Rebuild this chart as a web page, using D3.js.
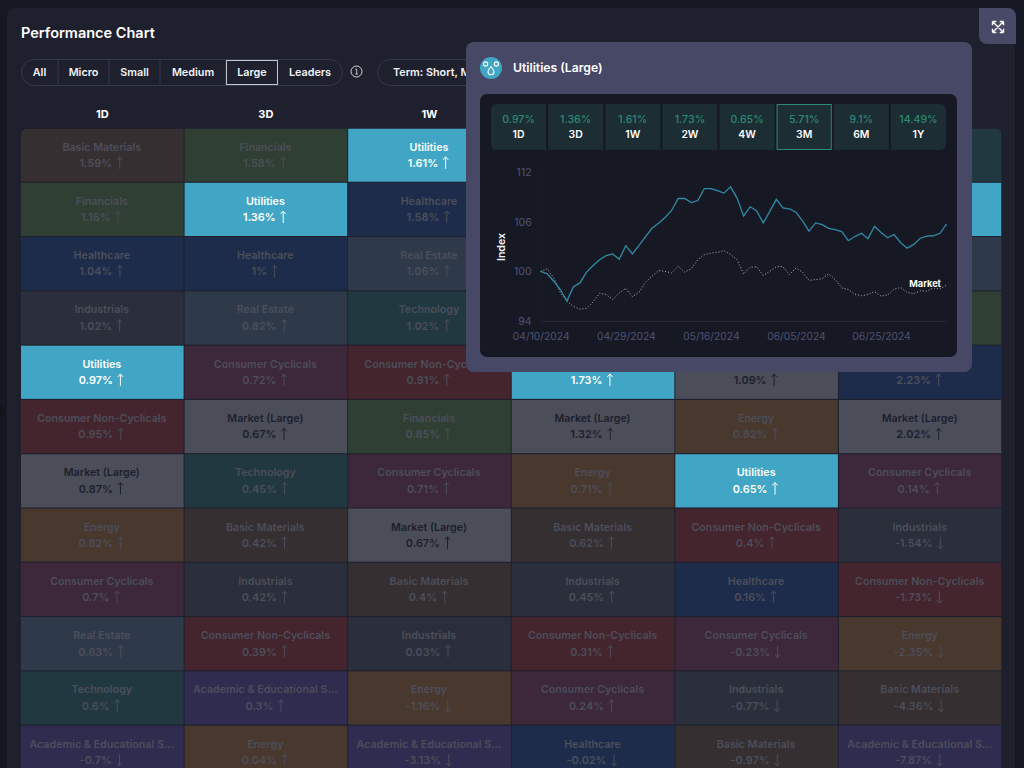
<!DOCTYPE html>
<html><head><meta charset="utf-8">
<style>html,body{margin:0;padding:0;background:#151722;overflow:hidden}svg{display:block}text{font-family:Inter,sans-serif}</style>
<script src="https://cdn.jsdelivr.net/npm/d3@7"></script></head>
<body><svg id="c" width="1024" height="768"></svg>
<script>
const periods=["1D","3D","1W","2W","4W","3M"];
const visibleHeaders=["1D","3D","1W"];
const tabs=["All","Micro","Small","Medium","Large","Leaders"];
const sectors1D=["Basic Materials","Financials","Healthcare","Industrials","Utilities","Consumer Non-Cyclicals","Market (Large)","Energy","Consumer Cyclicals","Real Estate","Technology","Academic & Educational S..."];
const values1D=[1.59,1.16,1.04,1.02,0.97,0.95,0.87,0.82,0.7,0.63,0.6,-0.7];
const sectors3D=["Financials","Utilities","Healthcare","Real Estate","Consumer Cyclicals","Market (Large)","Technology","Basic Materials","Industrials","Consumer Non-Cyclicals","Academic & Educational S...","Energy"];
const values3D=[1.58,1.36,1,0.82,0.72,0.67,0.45,0.42,0.42,0.39,0.3,0.04];
const sectors1W=["Utilities","Healthcare","Real Estate","Technology","Consumer Non-Cyclicals","Financials","Consumer Cyclicals","Market (Large)","Basic Materials","Industrials","Energy","Academic & Educational S..."];
const values1W=[1.61,1.58,1.06,1.02,0.91,0.85,0.71,0.67,0.4,0.03,-1.16,-3.13];
// Rows 0-3 of 2W and 4W sit entirely behind the popup and cannot be read.
const sectors2W=[null,null,null,null,"Utilities","Market (Large)","Energy","Basic Materials","Industrials","Consumer Non-Cyclicals","Consumer Cyclicals","Healthcare"];
const values2W=[null,null,null,null,1.73,1.32,0.71,0.62,0.45,0.31,0.24,-0.02];
const sectors4W=[null,null,null,null,"Market (Large)","Energy","Utilities","Consumer Non-Cyclicals","Healthcare","Consumer Cyclicals","Industrials","Basic Materials"];
const values4W=[null,null,null,null,1.09,0.82,0.65,0.4,0.16,-0.23,-0.77,-0.97];
const sectors3M=["Technology","Utilities","Real Estate","Financials","Healthcare","Market (Large)","Consumer Cyclicals","Industrials","Consumer Non-Cyclicals","Energy","Basic Materials","Academic & Educational S..."];
const values3M=[null,5.71,null,null,2.23,2.02,0.14,-1.54,-1.73,-2.35,-4.36,-7.87];
const sectorColors={"Basic Materials":"#352f31","Financials":"#2f3f33","Healthcare":"#1e2c4b","Industrials":"#2a2f3b","Utilities":"#41a6c5","Consumer Non-Cyclicals":"#44242d","Market (Large)":"#4b4e59","Energy":"#48382e","Consumer Cyclicals":"#3d273a","Real Estate":"#2e3a4a","Technology":"#213840","Academic & Educational S...":"#2f2c50"};
const tileLabels=["1D","3D","1W","2W","4W","3M","6M","1Y"];
const tileValues=["0.97%","1.36%","1.61%","1.73%","0.65%","5.71%","9.1%","14.49%"];
const dates=["04/10/2024","04/11/2024","04/12/2024","04/15/2024","04/16/2024","04/17/2024","04/18/2024","04/19/2024","04/22/2024","04/23/2024","04/24/2024","04/25/2024","04/26/2024","04/29/2024","04/30/2024","05/01/2024","05/02/2024","05/03/2024","05/06/2024","05/07/2024","05/08/2024","05/09/2024","05/10/2024","05/13/2024","05/14/2024","05/15/2024","05/16/2024","05/17/2024","05/20/2024","05/21/2024","05/22/2024","05/23/2024","05/24/2024","05/28/2024","05/29/2024","05/30/2024","05/31/2024","06/03/2024","06/04/2024","06/05/2024","06/06/2024","06/07/2024","06/10/2024","06/11/2024","06/12/2024","06/13/2024","06/14/2024","06/17/2024","06/18/2024","06/20/2024","06/21/2024","06/24/2024","06/25/2024","06/26/2024","06/27/2024","06/28/2024","07/01/2024","07/02/2024","07/03/2024","07/05/2024","07/08/2024","07/09/2024","07/10/2024"];
const utilitiesIndex=[100,99.7,98.8,97.8,96.4,98.15,98.6,99.9,100.7,101.4,101.9,102.1,101.45,103.1,102.1,103.1,104.15,105.2,105.8,106.5,107.35,108.8,108.8,108.3,108.55,110,110,109.75,109.45,110.2,108.85,106.7,107.8,107.3,105.85,107.25,108.7,107.65,107.55,107.15,106.1,104.85,105.85,105.65,105.2,105.05,104.8,103.7,104.2,104.6,103.95,105.45,104.7,104.05,104.45,103.45,102.8,103.25,104,104.25,104.3,104.6,105.71];
const marketIndex=[100,100.3,99.2,97.4,96.4,95.75,95.45,95.5,96.3,97.35,97.2,96.6,97.4,97.95,96.95,97.45,98.65,99.4,100.1,100,99.8,100.6,99.9,100.3,101.4,102,102.2,102.3,102.5,102.05,101.4,99.7,100.5,100.55,99.5,100,100.55,100.6,99.6,100.4,99.9,98.9,99,99.1,99.7,99,98,97.8,97.25,97.05,97.2,97.55,97,97.15,97.85,98.05,97.45,97.3,97.65,97.6,98,97.85,98.35];
const yTicks=[94,100,106,112];
const xTicks=["04/10/2024","04/29/2024","05/16/2024","06/05/2024","06/25/2024"];

const svg=d3.select("#c");
const defs=svg.append("defs");
defs.append("clipPath").attr("id","gridClip").append("rect").attr("x",21).attr("y",128.5).attr("width",980.5).attr("height",700).attr("rx",6);

// page card
svg.append("rect").attr("x",7).attr("y",8).attr("width",1008).attr("height",800).attr("rx",8).attr("fill","#1e202e");
svg.append("circle").attr("cx",-1).attr("cy",411).attr("r",6).attr("fill","#11131b");
svg.append("text").attr("x",21).attr("y",38).attr("fill","#fff").attr("font-size",14.5).attr("font-weight",600).text("Performance Chart");

// expand button
svg.append("path").attr("d","M979 8H1008a8 8 0 0 1 8 8V44H987a8 8 0 0 1 -8 -8Z").attr("fill","#474966");
svg.append("path").attr("d","M992.5 21.5h3.8M992.5 21.5v3.8M1003.5 21.5h-3.8M1003.5 21.5v3.8M992.5 32.5h3.8M992.5 32.5v-3.8M1003.5 32.5h-3.8M1003.5 32.5v-3.8M992.5 21.5l11 11M1003.5 21.5l-11 11").attr("stroke","#fff").attr("stroke-width",1.4).attr("fill","none");

// tabs
const tabEdges=[21,58,109,160,226,278,343];
svg.append("rect").attr("x",21.5).attr("y",59.5).attr("width",321).attr("height",26).attr("rx",13).attr("fill","none").attr("stroke","#343850");
tabs.forEach((t,i)=>{
  if(i>0&&i<5) svg.append("line").attr("x1",tabEdges[i]).attr("x2",tabEdges[i]).attr("y1",60).attr("y2",85).attr("stroke","#343850");
  if(t==="Large") svg.append("rect").attr("x",226.5).attr("y",60.5).attr("width",51).attr("height",24).attr("fill","none").attr("stroke","#c5c7ce");
  svg.append("text").attr("x",(tabEdges[i]+tabEdges[i+1])/2+(i==5?-0.5:0)).attr("y",76).attr("text-anchor","middle").attr("fill","#f2f3f6").attr("font-size",10.8).attr("font-weight",600).text(t);
});
svg.append("circle").attr("cx",356.5).attr("cy",71.5).attr("r",5.5).attr("fill","none").attr("stroke","#d8d9de");
svg.append("path").attr("d","M355.3 69.3h1.4v4.5M355.3 74h2.6M356.5 67.8v.4").attr("fill","none").attr("stroke","#d8d9de").attr("stroke-width",0.9);
svg.append("rect").attr("x",377.5).attr("y",59.5).attr("width",200).attr("height",26).attr("rx",13).attr("fill","none").attr("stroke","#343850");
svg.append("text").attr("x",393).attr("y",76).attr("fill","#f2f3f6").attr("font-size",10.8).attr("font-weight",600).text("Term: Short, Medium");

// grid
const colSectors=[sectors1D,sectors3D,sectors1W,sectors2W,sectors4W,sectors3M];
const colValues=[values1D,values3D,values1W,values2W,values4W,values3M];
const x=d3.scaleBand().domain(periods).range([21,1001.5]).paddingInner(0.006);
const rowIdx=d3.range(12);
const y=d3.scaleBand().domain(rowIdx).range([128.5,128.5+12*54.2]).paddingInner(0.02);
svg.append("g").selectAll("text").data(visibleHeaders).join("text")
  .attr("x",d=>x(d)+x.bandwidth()/2).attr("y",118).attr("text-anchor","middle").attr("fill","#fff").attr("font-size",11).attr("font-weight",700).text(d=>d);
const cells=periods.flatMap((p,c)=>rowIdx.map(r=>({p,r,s:colSectors[c][r],v:colValues[c][r]}))).filter(d=>d.s);
const g=svg.append("g").attr("clip-path","url(#gridClip)");
const cell=g.selectAll("g").data(cells).join("g").attr("transform",d=>`translate(${x(d.p)},${y(d.r)})`);
cell.append("rect").attr("width",x.bandwidth()).attr("height",y.bandwidth()).attr("fill",d=>sectorColors[d.s]);
const tcol=d=>d.s==="Utilities"?"#fff":d.s==="Market (Large)"?"#1c1f2d":"#4c4e5a";
cell.filter(d=>d.v!==null).append("text").attr("x",x.bandwidth()/2-0.5).attr("y",22.1).attr("text-anchor","middle").attr("font-size",10.7).attr("font-weight",600).attr("fill",tcol).text(d=>d.s);
cell.filter(d=>d.v!==null).each(function(d){
  const sel=d3.select(this),cx=x.bandwidth()/2-0.5;
  const t=sel.append("text").attr("y",38.4).attr("font-size",10.9).attr("font-weight",600).attr("fill",tcol(d)).text(d.v+"%");
  const w=t.node().getComputedTextLength(),total=w+12,x0=cx-total/2;
  t.attr("x",x0);
  const ax=x0+w+7.5,up=d.v>=0;
  const top=28.3,bot=40.3,tip=up?top:bot,end=up?bot:top,dir=up?1:-1;
  sel.append("path").attr("d",`M${ax} ${end}V${tip}M${ax-2.6} ${tip+3*dir}L${ax} ${tip}L${ax+2.6} ${tip+3*dir}`).attr("fill","none").attr("stroke",tcol(d)).attr("stroke-width",1);
});

// popup
svg.append("rect").attr("x",466).attr("y",42).attr("width",506).attr("height",330).attr("rx",8).attr("fill","#464866");
svg.append("circle").attr("cx",491).attr("cy",68).attr("r",11).attr("fill","#41a6c5");
svg.append("path").attr("d","M491 66.5c2 2.6 3 3.8 3 5.2a3 3 0 0 1 -6 0c0 -1.4 1 -2.6 3 -5.2Z").attr("fill","none").attr("stroke","#fff").attr("stroke-width",1.1);
svg.selectAll(".d").data([485.6,496.4]).join("circle").attr("cx",d=>d).attr("cy",64).attr("r",2.1).attr("fill","none").attr("stroke","#fff").attr("stroke-width",1.1);
svg.append("text").attr("x",513).attr("y",72).attr("fill","#fff").attr("font-size",12.2).attr("font-weight",600).text("Utilities (Large)");
svg.append("rect").attr("x",480).attr("y",94).attr("width",477).attr("height",263).attr("rx",7).attr("fill","#161923");

// tiles
const tx=d3.scaleBand().domain(tileLabels).range([491,946]).paddingInner(0.035);
svg.append("rect").attr("x",491).attr("y",104).attr("width",455).attr("height",46).attr("rx",6).attr("fill","#1c2d33");
svg.selectAll(".sep").data(tileLabels.slice(1)).join("rect").attr("x",d=>tx(d)-tx.step()+tx.bandwidth()).attr("y",104).attr("width",tx.step()-tx.bandwidth()).attr("height",46).attr("fill","#161923");
const tile=svg.append("g").selectAll("g").data(tileLabels).join("g").attr("transform",d=>`translate(${tx(d)},104)`);
tile.filter(d=>d==="3M").append("rect").attr("x",.5).attr("y",.5).attr("width",tx.bandwidth()-1).attr("height",45).attr("fill","none").attr("stroke","#2a8a73");
tile.append("text").attr("x",tx.bandwidth()/2).attr("y",18.5).attr("text-anchor","middle").attr("font-size",10.6).attr("fill","#2a8a73").attr("font-weight",500).text((d,i)=>tileValues[i]);
tile.append("text").attr("x",tx.bandwidth()/2).attr("y",33.5).attr("text-anchor","middle").attr("font-size",10.4).attr("fill","#fff").attr("font-weight",600).text(d=>d);

// line chart
const px=d3.scalePoint().domain(dates).range([540.7,946.5]);
const py=d3.scaleLinear().domain([94,112]).range([321,172]);
const axL=svg.append("g").attr("transform","translate(540.7,0)").call(d3.axisLeft(py).tickValues(yTicks).tickSize(0).tickPadding(9));
axL.select(".domain").attr("stroke","#23263a").attr("stroke-dasharray","1 2");
axL.selectAll("text").attr("fill","#4f5274").attr("font-size",10.6).style("font-family","Inter,sans-serif");
const axB=svg.append("g").attr("transform","translate(0,321)").call(d3.axisBottom(px).tickValues(xTicks).tickSize(0).tickPadding(12));
axB.select(".domain").attr("stroke","#23263a");
axB.selectAll("text").attr("fill","#4f5274").attr("font-size",10.3).style("font-family","Inter,sans-serif");
svg.append("text").attr("transform","translate(505,247) rotate(-90)").attr("text-anchor","middle").attr("fill","#f2f3f6").attr("font-size",10.6).attr("font-weight",600).text("Index");
const line=d3.line().x((d,i)=>px(dates[i])).y(d=>py(d));
svg.append("path").attr("d",line(marketIndex)).attr("fill","none").attr("stroke","#b8bac2").attr("stroke-width",1).attr("stroke-dasharray","1 2");
svg.append("path").attr("d",line(utilitiesIndex)).attr("fill","none").attr("stroke","#2f8ba6").attr("stroke-width",1.3);
svg.append("text").attr("x",941).attr("y",287).attr("text-anchor","end").attr("fill","#fff").attr("font-size",9.2).attr("font-weight",700).attr("stroke","#161923").attr("stroke-width",2).attr("paint-order","stroke").text("Market");
</script></body></html>
